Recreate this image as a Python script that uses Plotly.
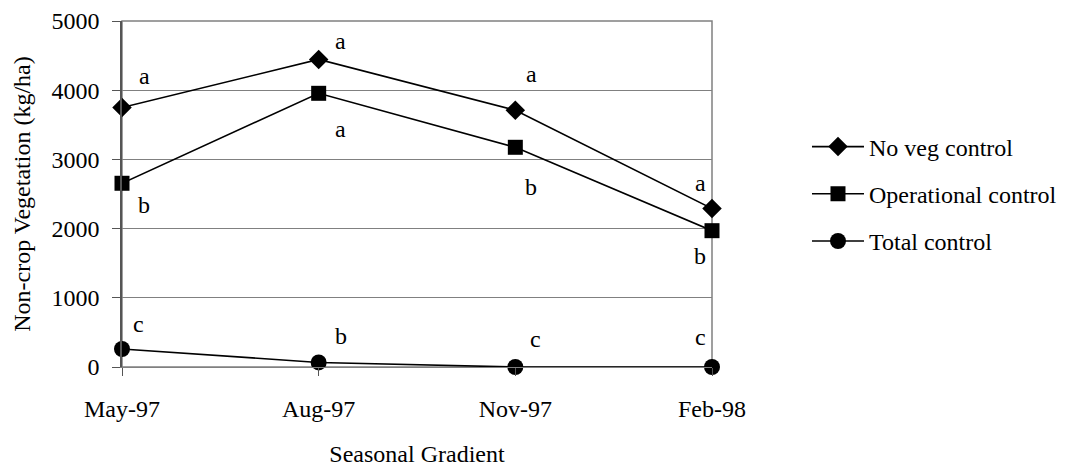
import plotly.graph_objects as go

categories = ["May-97", "Aug-97", "Nov-97", "Feb-98"]
no_veg = [3750, 4445, 3710, 2290]
operational = [2655, 3955, 3175, 1970]
total = [260, 66, 0, 0]
no_veg_letters = ["a", "a", "a", "a"]
operational_letters = ["b", "a", "b", "b"]
total_letters = ["c", "b", "c", "c"]
y_ticks = [0, 1000, 2000, 3000, 4000, 5000]

FONT = "Liberation Serif"

fig = go.Figure()
series = [
    ("No veg control", no_veg, "diamond", 15),
    ("Operational control", operational, "square", 15),
    ("Total control", total, "circle", 16),
]
for name, vals, sym, sz in series:
    fig.add_trace(go.Scatter(
        x=categories, y=vals, name=name, mode="lines+markers",
        legendgroup=name,
        line=dict(color="black", width=1.6),
        marker=dict(symbol=sym, size=sz, color="black"),
        cliponaxis=False,
    ))

# letter annotations, offset from their points
offsets_nv = [(22, 32), (22, 18), (16, 36), (-12, 26)]
offsets_op = [(22, -22), (22, -36), (16, -40), (-12, -25)]
offsets_tc = [(16, 25), (22, 26), (20, 28), (-12, 30)]
for letters, vals, offs in [(no_veg_letters, no_veg, offsets_nv),
                            (operational_letters, operational, offsets_op),
                            (total_letters, total, offsets_tc)]:
    for c, v, l, (dx, dy) in zip(categories, vals, letters, offs):
        fig.add_annotation(x=c, y=v, text=l, showarrow=False, xshift=dx, yshift=dy,
                           font=dict(family=FONT, size=24, color="black"))

fig.update_layout(
    width=1085, height=475,
    margin=dict(l=114, r=381, t=13, b=116, autoexpand=False),
    paper_bgcolor="white", plot_bgcolor="white",
    font=dict(family=FONT, size=24, color="black"),
    showlegend=True,
    legend=dict(x=1.161, y=0.5, xanchor="left", yanchor="middle", xref="paper",
                font=dict(family=FONT, size=24), tracegroupgap=13,
                itemwidth=52, bgcolor="rgba(0,0,0,0)"),
    xaxis=dict(
        type="category", range=[0, 3], showgrid=False, automargin=False,
        ticks="outside", ticklen=8, tickcolor="#555", tickwidth=1,
        showline=True, linecolor="#808080", linewidth=1, mirror=False,
        ticklabelstandoff=12,
        title=dict(text="Seasonal Gradient", font=dict(family=FONT, size=24), standoff=24),
        zeroline=False,
    ),
    yaxis=dict(
        range=[0, 5000], tickvals=y_ticks, showgrid=True, gridcolor="#808080", gridwidth=1,
        automargin=False,
        ticks="outside", ticklen=8, tickcolor="#555", tickwidth=1,
        showline=True, linecolor="#555", linewidth=1.5,
        ticklabelstandoff=8,
        title=dict(text="Non-crop Vegetation (kg/ha)", font=dict(family=FONT, size=24), standoff=14),
        zeroline=False,
    ),
)
# right and top border of the plot area
fig.add_shape(type="rect", xref="paper", yref="paper", x0=0, y0=0, x1=1, y1=1,
              line=dict(color="#808080", width=1.5), layer="below")

fig.write_html("out.html")
